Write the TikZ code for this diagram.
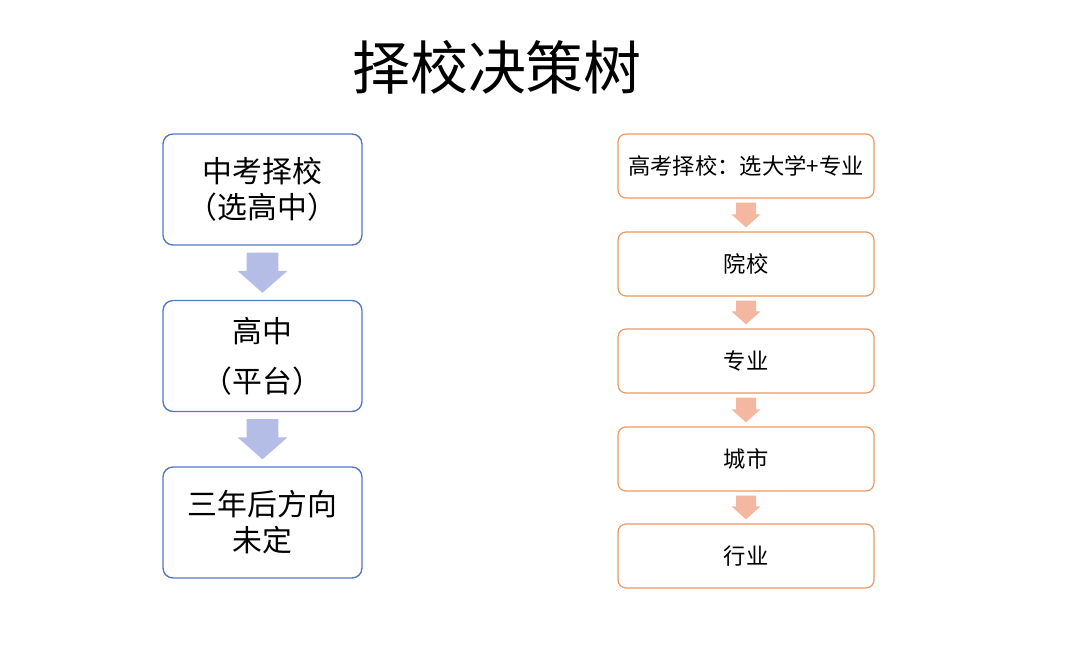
\documentclass[tikz,border=0pt]{standalone}
\usepackage{fontspec}
\newfontfamily\cjk{Noto Sans CJK SC}
\usetikzlibrary{calc}
\definecolor{zkline}{HTML}{5479C4}
\definecolor{zkarrow}{HTML}{B4BDE6}
\definecolor{gkline}{HTML}{E99A62}
\definecolor{gkarrow}{HTML}{F4B8A0}
% #1 from, #2 to, #3 half shaft, #4 half head, #5 head length, #6 gap, #7 colour
\newcommand{\blockarrow}[7]{%
\fill[#7] ($(#1.south)+(-#3,-#6)$) -- ($(#1.south)+(#3,-#6)$)
  -- ($(#1.south |- #2.north)+(#3,#6+#5)$) -- ($(#1.south |- #2.north)+(#4,#6+#5)$)
  -- ($(#1.south |- #2.north)+(0,#6)$)
  -- ($(#1.south |- #2.north)+(-#4,#6+#5)$) -- ($(#1.south |- #2.north)+(-#3,#6+#5)$) -- cycle;}
\begin{document}
\begin{tikzpicture}[x=0.02cm,y=-0.02cm,
  zkbox/.style={draw=zkline, line width=0.8pt, rounded corners=0.2cm, minimum width=3.98cm,
    minimum height=2.22cm, align=center, inner sep=0pt, font=\cjk\fontsize{17}{20.5}\selectfont},
  gkbox/.style={draw=gkline, line width=0.7pt, rounded corners=0.16cm, minimum width=5.12cm,
    minimum height=1.28cm, align=center, inner sep=0pt, font=\cjk\fontsize{12.7}{15}\selectfont}]
\useasboundingbox (0,0) rectangle (1080,650);
\node[font=\cjk\fontsize{33}{36}\selectfont] (title) at (497,67) {择校决策树};

% left column
\node[zkbox] (zk) at (262.5,189.5) {中考择校\\（选高中）};
\node[zkbox] (gz) at (262.5,356) {高中\\[8pt]（平台）};
\node[zkbox] (fx) at (262.5,522.5) {三年后方向\\未定};
\blockarrow{zk}{gz}{0.32cm}{0.5cm}{0.44cm}{0.14cm}{zkarrow}
\blockarrow{gz}{fx}{0.32cm}{0.5cm}{0.44cm}{0.14cm}{zkarrow}

% right column
\node[gkbox] (gk) at (746,166) {高考择校：选大学+专业};
\node[gkbox] (yx) at (746,264) {院校};
\node[gkbox] (zy) at (746,361) {专业};
\node[gkbox] (cs) at (746,459) {城市};
\node[gkbox] (hy) at (746,556) {行业};
\foreach \a/\b in {gk/yx,yx/zy,zy/cs,cs/hy}
  \blockarrow{\a}{\b}{0.2cm}{0.29cm}{0.26cm}{0.08cm}{gkarrow};
\end{tikzpicture}
\end{document}
